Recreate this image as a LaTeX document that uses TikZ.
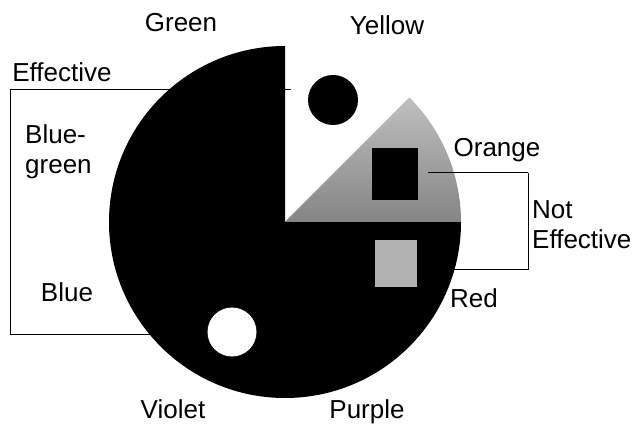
\documentclass[tikz,border=0pt]{standalone}
\usepackage{fontspec}
\setmainfont{Liberation Sans}
\begin{document}
\begin{tikzpicture}[x=1pt,y=1pt,
  lbl/.style={font=\fontsize{26}{30}\selectfont, inner sep=0pt, align=left},
  slbl/.style={font=\fontsize{26}{30}\selectfont, inner sep=0pt, anchor=base},
  brk/.style={draw=black, line width=1pt},
  dot/.style={circle, inner sep=0pt, minimum size=#1}]
\useasboundingbox (0,0) rectangle (637,425);
\coordinate (c) at (285,203);
% bracket coordinates
\coordinate (eTopR) at (291,335);
\coordinate (eTopL) at (10,335);
\coordinate (eBotL) at (10,90);
\coordinate (eBotR) at (165,90);
\coordinate (nTopL) at (428,252);
\coordinate (nTopR) at (528,252);
\coordinate (nBotR) at (528,155);
\coordinate (nBotL) at (445,155);
% left bracket behind pie
\draw[brk] (eTopR) -- (eTopL) -- (eBotL) -- (eBotR);
% right bracket lower part behind pie
\draw[brk] (nTopR) -- (nBotR) -- (nBotL);
% black pie sector
\fill[black] (c) -- ++(90:176) arc[start angle=90, end angle=360, radius=176] -- cycle;
% gray wedge
\shade[top color=black!25, bottom color=black!48] (c) -- ++(0:176) arc[start angle=0, end angle=45, radius=176] -- cycle;
% shapes
\node[dot=50pt, fill=black] (yel) at (333,325) {};
\node[fill=black, minimum width=46pt, minimum height=52pt, inner sep=0pt] (org) at (395,251) {};
\node[fill=black!30, minimum width=42pt, minimum height=47pt, inner sep=0pt] (red) at (396,161.5) {};
\node[dot=49pt, fill=white] (vio) at (232,93) {};
% right bracket top line over gray
\draw[brk] (nTopL) -- (nTopR);
% labels
\node[slbl] (tGreen) at (181,393) {Green};
\node[slbl] (tYellow) at (387,390) {Yellow};
\node[slbl] (tEff) at (62,343) {Effective};
\node[lbl, anchor=west] (tBG) at (25,273) {Blue-\\green};
\node[slbl] (tBlue) at (67,123) {Blue};
\node[slbl] (tOrange) at (497,268) {Orange};
\node[lbl, anchor=west] (tNE) at (532,200) {Not\\Effective};
\node[slbl] (tRed) at (474,117) {Red};
\node[slbl] (tViolet) at (173,6) {Violet};
\node[slbl] (tPurple) at (367,6) {Purple};
\end{tikzpicture}
\end{document}
